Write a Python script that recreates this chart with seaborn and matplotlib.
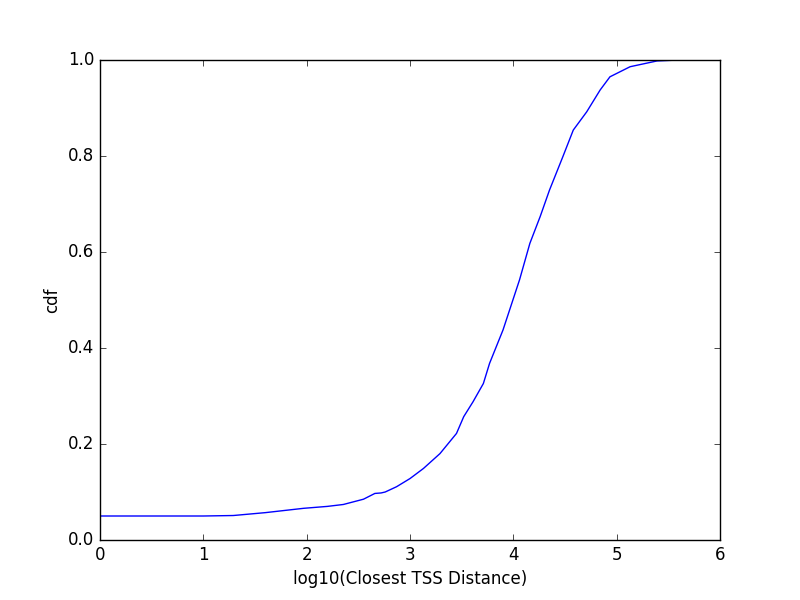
#!/usr/bin/env python3

# CDF of log10 distance to the closest TSS, old matplotlib look.

import matplotlib
matplotlib.use("Agg")
import matplotlib.pyplot as plt
import pandas
import seaborn as sns

# values
log_dist = [0.0, 0.5, 1.0, 1.29, 1.6, 1.97, 2.2, 2.355, 2.55, 2.66, 2.72, 2.76,
            2.87, 3.0, 3.13, 3.29, 3.45, 3.52, 3.61, 3.71, 3.77, 3.90, 4.06, 4.16,
            4.26, 4.35, 4.48, 4.58, 4.71, 4.84, 4.935, 5.13, 5.39, 5.6]
cdf = [0.05, 0.05, 0.05, 0.051, 0.057, 0.066, 0.070, 0.074, 0.085, 0.097,
       0.098, 0.100, 0.111, 0.128, 0.149, 0.18, 0.222, 0.257, 0.288, 0.326,
       0.368, 0.4375, 0.542, 0.618, 0.674, 0.729, 0.799, 0.854, 0.892, 0.9375,
       0.965, 0.986, 0.998, 1.0]

plt.style.use("classic")

df = pandas.DataFrame({"log_dist": log_dist, "cdf": cdf})

fig = plt.figure(figsize=(8, 6), dpi=100)
ax = fig.add_subplot(111)
sns.lineplot(data=df, x="log_dist", y="cdf", color="b", linewidth=1, ax=ax)

ax.set_xlim(0, 6)
ax.set_ylim(0, 1.0)
ax.set_xlabel("log10(Closest TSS Distance)")
ax.set_ylabel("cdf")

fig.savefig("out.png", dpi=100, facecolor="white")
